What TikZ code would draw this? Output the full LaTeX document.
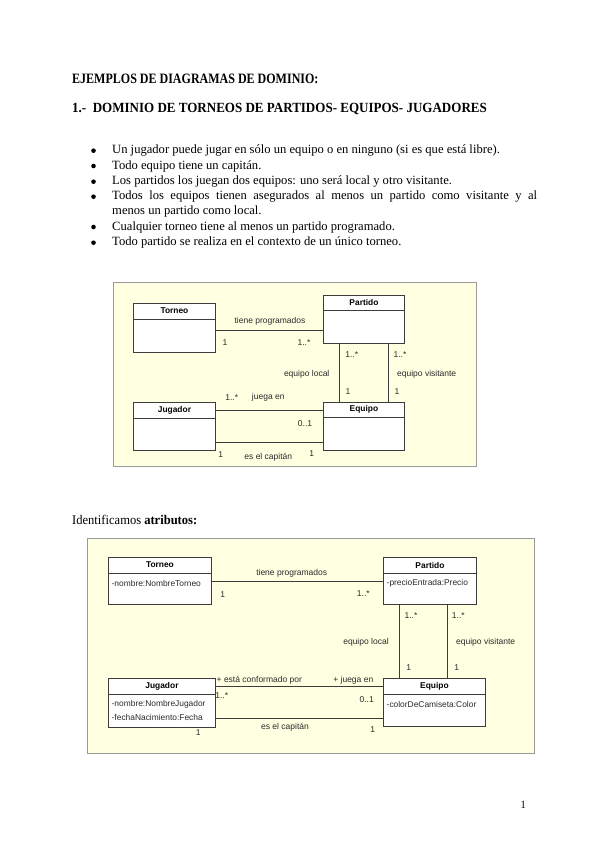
\documentclass[tikz,border=0pt]{standalone}
\usepackage{fontspec}
\setmainfont{Liberation Serif}
\newfontfamily\headfontA{Liberation Serif}[FakeStretch=0.84]
\newfontfamily\headfontB{Liberation Serif}[FakeStretch=0.93]
\newfontfamily\headfont{Liberation Serif}[FakeStretch=0.95]
\newfontfamily\diafont{Liberation Sans}
\usetikzlibrary{calc}
\definecolor{bgyellow}{HTML}{FFFFE2}
\definecolor{bgborder}{HTML}{9A9A9A}
\definecolor{boxline}{HTML}{3C3C3C}
\definecolor{diatext}{HTML}{2A2A2A}
\tikzset{
  bgpanel/.style={draw=bgborder, fill=bgyellow, line width=1pt},
  classbox/.style={draw=boxline, fill=white, line width=0.9pt, inner sep=0pt, anchor=north west},
  classname/.style={font=\diafont\bfseries\fontsize{8.4}{9}\selectfont, text=black, inner sep=0pt},
  attr/.style={font=\diafont\fontsize{8.4}{9}\selectfont, text=diatext, inner sep=0pt, anchor=west},
  lbl/.style={font=\diafont\fontsize{8.5}{9}\selectfont, text=diatext, inner sep=0pt},
  assoc/.style={draw=boxline, line width=0.9pt},
  divider/.style={draw=boxline, line width=0.9pt},
  heading/.style={anchor=west, inner sep=0pt},
  bodytext/.style={font=\fontsize{12.6}{14}\selectfont, anchor=west, inner sep=0pt},
  bulletmark/.style={circle, fill=black, draw=none, inner sep=0pt, minimum size=4.6pt}
}
\begin{document}
\begin{tikzpicture}[x=1pt,y=-1pt]
\useasboundingbox[fill=white] (0,0) rectangle (599,848);

% headings
\node[heading, font=\headfontA\bfseries\fontsize{14.3}{16}\selectfont] (h1) at (72,78.5) {EJEMPLOS DE DIAGRAMAS DE DOMINIO:};
\node[heading, font=\headfontB\bfseries\fontsize{14}{16}\selectfont] (h2) at (72,109.5) {1.-\ \ DOMINIO DE TORNEOS DE PARTIDOS- EQUIPOS- JUGADORES};

% bullets
\foreach \yy/\nm in {150.7/b1,166/b2,181.7/b3,196.7/b4,227/b6,242.7/b7}{
  \node[bulletmark] (\nm m) at (93.5,\yy) {};
}
\node[bodytext] (b1) at (112,150.7) {Un jugador puede jugar en sólo un equipo o en ninguno (si es que está libre).};
\node[bodytext] (b2) at (112,166) {Todo equipo tiene un capitán.};
\node[bodytext] (b3) at (112,181.7) {Los partidos los juegan dos equipos: uno será local y otro visitante.};
\node[bodytext] (b4) at (112,196.7) {\makebox[425pt][s]{Todos los equipos tienen asegurados al menos un partido como visitante y al}};
\node[bodytext] (b5) at (112,211.7) {menos un partido como local.};
\node[bodytext] (b6) at (112,227) {Cualquier torneo tiene al menos un partido programado.};
\node[bodytext] (b7) at (112,242.7) {Todo partido se realiza en el contexto de un único torneo.};

% ---------- Diagram 1 ----------
\node[bgpanel, minimum width=363pt, minimum height=184pt, anchor=north west, inner sep=0pt] (bg1) at (113,281.5) {};

\node[classbox, minimum width=82pt, minimum height=49pt] (tor1) at (133,303) {};
\draw[divider] ($(tor1.north west)+(0,16)$) -- ($(tor1.north east)+(0,16)$);
\node[classname] (tor1n) at ($(tor1.north)+(0,8)$) {Torneo};

\node[classbox, minimum width=81pt, minimum height=48pt] (par1) at (323,295) {};
\draw[divider] ($(par1.north west)+(0,15)$) -- ($(par1.north east)+(0,15)$);
\node[classname] (par1n) at ($(par1.north)+(0,7.5)$) {Partido};

\node[classbox, minimum width=82pt, minimum height=48pt] (jug1) at (133,402) {};
\draw[divider] ($(jug1.north west)+(0,16)$) -- ($(jug1.north east)+(0,16)$);
\node[classname] (jug1n) at ($(jug1.north)+(0,8)$) {Jugador};

\node[classbox, minimum width=81pt, minimum height=48pt] (equ1) at (323,402) {};
\draw[divider] ($(equ1.north west)+(0,15)$) -- ($(equ1.north east)+(0,15)$);
\node[classname] (equ1n) at ($(equ1.north)+(0,7.5)$) {Equipo};

\draw[assoc] (tor1.east |- 0,330) -- (par1.west |- 0,330);
\draw[assoc] (par1.south -| 339,0) -- (equ1.north -| 339,0);
\draw[assoc] (par1.south -| 388,0) -- (equ1.north -| 388,0);
\draw[assoc] (jug1.east |- 0,410.7) -- (equ1.west |- 0,410.7);
\draw[assoc] (jug1.east |- 0,442.7) -- (equ1.west |- 0,442.7);

\node[lbl] (l1a) at (270,321.7) {tiene programados};
\node[lbl] (l1b) at (225,343) {1};
\node[lbl] (l1c) at (304,343) {1..*};
\node[lbl] (l1d) at (351.7,355) {1..*};
\node[lbl] (l1e) at (400,355) {1..*};
\node[lbl] (l1f) at (348,391.7) {1};
\node[lbl] (l1g) at (397,391.7) {1};
\node[lbl] (l1h) at (306.7,374) {equipo local};
\node[lbl] (l1i) at (426.7,374) {equipo visitante};
\node[lbl] (l1j) at (231.7,397.7) {1..*};
\node[lbl] (l1k) at (268.3,397) {juega en};
\node[lbl] (l1l) at (305,423.3) {0..1};
\node[lbl] (l1m) at (220.7,455) {1};
\node[lbl] (l1n) at (268.3,457.7) {es el capitán};
\node[lbl] (l1o) at (311.7,454) {1};

% Identificamos
\node[bodytext, font=\headfont\fontsize{13.2}{14}\selectfont] (id) at (72,520) {Identificamos \textbf{atributos:}};

% ---------- Diagram 2 ----------
\node[bgpanel, minimum width=447pt, minimum height=215pt, anchor=north west, inner sep=0pt] (bg2) at (87,538) {};

\node[classbox, minimum width=103pt, minimum height=47pt] (tor2) at (108,557) {};
\draw[divider] ($(tor2.north west)+(0,16)$) -- ($(tor2.north east)+(0,16)$);
\node[classname] (tor2n) at ($(tor2.north)+(0,8)$) {Torneo};
\node[attr] (tor2a) at (111.5,583.3) {-nombre:NombreTorneo};

\node[classbox, minimum width=93pt, minimum height=47pt] (par2) at (383,557) {};
\draw[divider] ($(par2.north west)+(0,16)$) -- ($(par2.north east)+(0,16)$);
\node[classname] (par2n) at ($(par2.north)+(0,8)$) {Partido};
\node[attr] (par2a) at (386.5,583.3) {-precioEntrada:Precio};

\node[classbox, minimum width=107pt, minimum height=49pt] (jug2) at (108,678) {};
\draw[divider] ($(jug2.north west)+(0,16)$) -- ($(jug2.north east)+(0,16)$);
\node[classname] (jug2n) at ($(jug2.north)+(0,8.5)$) {Jugador};
\node[attr] (jug2a) at (111.5,704.3) {-nombre:NombreJugador};
\node[attr] (jug2b) at (111.5,717.3) {-fechaNacimiento:Fecha};

\node[classbox, minimum width=102pt, minimum height=48pt] (equ2) at (383,678) {};
\draw[divider] ($(equ2.north west)+(0,16)$) -- ($(equ2.north east)+(0,16)$);
\node[classname] (equ2n) at ($(equ2.north)+(0,8.5)$) {Equipo};
\node[attr] (equ2a) at (386.5,704) {-colorDeCamiseta:Color};

\draw[assoc] (tor2.east |- 0,581) -- (par2.west |- 0,581);
\draw[assoc] (par2.south -| 399.3,0) -- (equ2.north -| 399.3,0);
\draw[assoc] (par2.south -| 447.7,0) -- (equ2.north -| 447.7,0);
\draw[assoc] (jug2.east |- 0,686) -- (equ2.west |- 0,686);
\draw[assoc] (jug2.east |- 0,718.3) -- (equ2.west |- 0,718.3);

\node[lbl] (l2a) at (291.7,573.3) {tiene programados};
\node[lbl] (l2b) at (222.7,595) {1};
\node[lbl] (l2c) at (363.3,593.3) {1..*};
\node[lbl] (l2d) at (411,615.7) {1..*};
\node[lbl] (l2e) at (458.3,615.7) {1..*};
\node[lbl] (l2f) at (408.7,667.3) {1};
\node[lbl] (l2g) at (456.7,667.3) {1};
\node[lbl] (l2h) at (366,642.7) {equipo local};
\node[lbl] (l2i) at (485.7,642.7) {equipo visitante};
\node[lbl, anchor=west] (l2j) at (216.5,680) {+ está conformado por};
\node[lbl] (l2k) at (353.3,680) {+ juega en};
\node[lbl] (l2l) at (221.7,695.7) {1..*};
\node[lbl] (l2m) at (366.7,700) {0..1};
\node[lbl] (l2n) at (285,727.3) {es el capitán};
\node[lbl] (l2o) at (198.3,732.3) {1};
\node[lbl] (l2p) at (372.7,730) {1};

% page number
\node[font=\headfont\fontsize{11}{13}\selectfont, inner sep=0pt] (pg) at (523.3,805) {1};
\end{tikzpicture}
\end{document}
